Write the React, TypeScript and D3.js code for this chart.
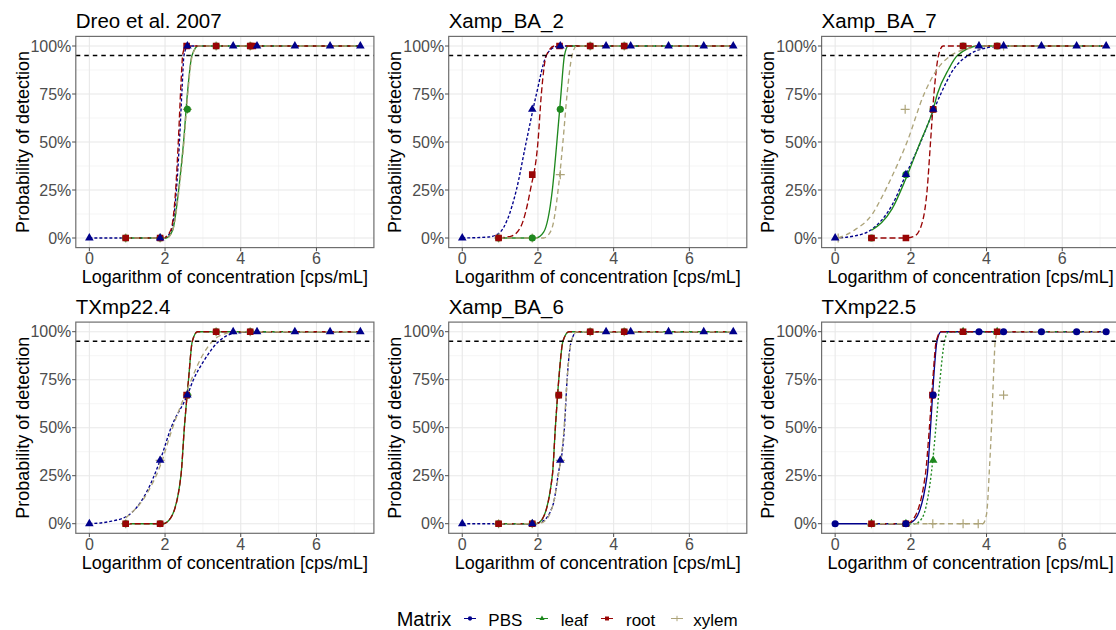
import React from "react";
import * as d3 from "d3";

// ---------- data ----------
const PANEL_TITLES = ["Dreo et al. 2007", "Xamp_BA_2", "Xamp_BA_7", "TXmp22.4", "Xamp_BA_6", "TXmp22.5"];
const MATRICES = ["PBS", "leaf", "root", "xylem"];
const X_TICKS = [0, 2, 4, 6];
const X_MINOR = [1, 3, 5, 7];
const Y_TICKS = [0, 0.25, 0.5, 0.75, 1];
const Y_TICK_LABELS = ["0%", "25%", "50%", "75%", "100%"];
const Y_MINOR = [0.125, 0.375, 0.625, 0.875];
const X_DATA_RANGE = [0, 7.16];
const LOD_LEVEL = 0.95;

// observed detection rates: [log concentration, proportion detected]
const dreoPoints = {
  PBS: [[0, 0], [1.87, 0], [2.59, 1], [3.8, 1], [4.43, 1], [5.43, 1], [6.36, 1], [7.16, 1]],
  leaf: [[0.96, 0], [1.87, 0], [2.59, 0.67], [3.35, 1], [4.25, 1]],
  root: [[0.96, 0], [1.87, 0], [2.57, 1], [3.35, 1], [4.25, 1], [4.32, 1]],
  xylem: [[0.96, 0], [1.87, 0], [2.59, 0.67], [3.35, 1], [4.25, 1]],
};
const ba2Points = {
  PBS: [[0, 0], [1.85, 0.67], [2.59, 1], [3.8, 1], [4.45, 1], [5.45, 1], [6.38, 1], [7.16, 1]],
  leaf: [[0.96, 0], [1.85, 0], [2.59, 0.67], [3.38, 1], [4.28, 1]],
  root: [[0.96, 0], [1.85, 0.33], [2.57, 1], [3.38, 1], [4.28, 1]],
  xylem: [[0.96, 0], [1.85, 0], [2.59, 0.33], [3.38, 1], [4.28, 1]],
};
const ba7Points = {
  PBS: [[0, 0], [1.87, 0.33], [2.59, 0.67], [3.8, 1], [4.45, 1], [5.45, 1], [6.38, 1], [7.16, 1]],
  leaf: [[0.96, 0], [1.87, 0.33], [2.59, 0.67], [3.38, 1], [4.28, 1]],
  root: [[0.96, 0], [1.87, 0], [2.59, 0.67], [3.38, 1], [4.28, 1]],
  xylem: [[0.08, 0], [1.85, 0.67], [3.8, 1], [4.45, 1]],
};
const tx224Points = {
  PBS: [[0, 0], [1.87, 0.33], [2.59, 0.67], [3.8, 1], [4.43, 1], [5.43, 1], [6.36, 1], [7.16, 1]],
  leaf: [[0.96, 0], [1.87, 0], [2.59, 0.67], [3.35, 1], [4.25, 1]],
  root: [[0.96, 0], [1.87, 0], [2.57, 0.67], [3.35, 1], [4.25, 1]],
  xylem: [[0.96, 0], [1.87, 0.33], [2.59, 0.67], [3.35, 1], [4.25, 1]],
};
const ba6Points = {
  PBS: [[0, 0], [1.85, 0], [2.59, 0.33], [3.8, 1], [4.45, 1], [5.45, 1], [6.38, 1], [7.16, 1]],
  leaf: [[0.96, 0], [1.85, 0], [2.55, 0.67], [3.38, 1], [4.28, 1]],
  root: [[0.96, 0], [1.85, 0], [2.55, 0.67], [3.38, 1], [4.28, 1]],
  xylem: [[0.96, 0], [1.85, 0], [2.59, 0.33], [3.38, 1], [4.28, 1]],
};
const tx225Points = {
  PBS: [[0, 0], [1.87, 0], [2.59, 0.67], [3.8, 1], [4.45, 1], [5.45, 1], [6.38, 1], [7.16, 1]],
  leaf: [[0.96, 0], [1.87, 0], [2.59, 0.33], [3.38, 1], [4.28, 1]],
  root: [[0.96, 0], [1.87, 0], [2.57, 0.67], [3.38, 1], [4.28, 1]],
  xylem: [[0.96, 0], [2.58, 0], [3.38, 0], [3.78, 0], [4.45, 0.67]],
};

// fitted detection curves: [log concentration, probability]
const dreoFits = {
  PBS: [[0, 0], [1.95, 0], [2.15, 0.03], [2.3, 0.25], [2.38, 0.5], [2.45, 0.78], [2.5, 0.95], [2.6, 1], [7.16, 1]],
  leaf: [[0.96, 0], [2.03, 0], [2.2, 0.04], [2.36, 0.25], [2.49, 0.5], [2.59, 0.75], [2.71, 0.95], [2.88, 1], [7.16, 1]],
  root: [[0.96, 0], [1.95, 0], [2.15, 0.04], [2.28, 0.25], [2.35, 0.5], [2.42, 0.8], [2.47, 0.96], [2.55, 1], [7.16, 1]],
  xylem: [[0.96, 0], [2.05, 0], [2.2, 0.04], [2.37, 0.25], [2.5, 0.5], [2.6, 0.75], [2.72, 0.95], [2.88, 1], [7.16, 1]],
};
const ba2Fits = {
  PBS: [[0, 0], [0.7, 0.005], [1.0, 0.03], [1.2, 0.1], [1.43, 0.25], [1.69, 0.5], [1.96, 0.75], [2.22, 0.95], [2.45, 0.995], [2.6, 1], [7.16, 1]],
  leaf: [[0.96, 0], [1.95, 0], [2.15, 0.03], [2.38, 0.25], [2.5, 0.5], [2.6, 0.73], [2.7, 0.95], [2.8, 1], [7.16, 1]],
  root: [[0.96, 0], [1.3, 0.01], [1.55, 0.06], [1.8, 0.25], [2.0, 0.5], [2.09, 0.75], [2.22, 0.95], [2.44, 1], [7.16, 1]],
  xylem: [[0.96, 0], [2.15, 0], [2.35, 0.04], [2.55, 0.28], [2.66, 0.5], [2.77, 0.75], [2.9, 0.95], [3.02, 1], [7.16, 1]],
};
const ba7Fits = {
  PBS: [[0, 0], [0.5, 0.01], [1, 0.05], [1.5, 0.17], [1.87, 0.33], [2.26, 0.5], [2.59, 0.66], [2.79, 0.75], [3.1, 0.87], [3.5, 0.95], [4, 0.99], [4.45, 1], [7.16, 1]],
  leaf: [[0.96, 0.04], [1.5, 0.15], [1.87, 0.31], [2.25, 0.5], [2.59, 0.67], [2.7, 0.75], [3.0, 0.88], [3.23, 0.95], [3.8, 1], [7.16, 1]],
  root: [[0.96, 0], [1.87, 0], [2.1, 0.01], [2.3, 0.08], [2.43, 0.25], [2.52, 0.5], [2.61, 0.75], [2.73, 0.95], [2.85, 1], [7.16, 1]],
  xylem: [[0.08, 0], [0.5, 0.04], [1.0, 0.13], [1.2, 0.2], [1.5, 0.32], [1.9, 0.5], [2.35, 0.75], [2.7, 0.88], [3.05, 0.95], [3.5, 0.985], [4, 1], [7.16, 1]],
};
const tx224Fits = {
  PBS: [[0, 0], [0.5, 0.01], [1, 0.04], [1.5, 0.16], [1.87, 0.33], [2.16, 0.5], [2.59, 0.67], [2.75, 0.75], [3.0, 0.84], [3.42, 0.95], [3.8, 0.99], [4.43, 1], [7.16, 1]],
  leaf: [[0.96, 0], [1.95, 0], [2.15, 0.03], [2.42, 0.25], [2.51, 0.5], [2.62, 0.75], [2.72, 0.95], [2.86, 1], [7.16, 1]],
  root: [[0.96, 0], [1.95, 0], [2.15, 0.03], [2.42, 0.25], [2.51, 0.5], [2.62, 0.75], [2.72, 0.95], [2.86, 1], [7.16, 1]],
  xylem: [[0.96, 0.03], [1.5, 0.15], [1.87, 0.3], [2.2, 0.5], [2.59, 0.7], [3.0, 0.88], [3.25, 0.95], [3.6, 0.99], [4.0, 1], [7.16, 1]],
};
const ba6Fits = {
  PBS: [[0, 0], [1.85, 0], [2.1, 0.01], [2.4, 0.1], [2.53, 0.25], [2.7, 0.5], [2.77, 0.75], [2.88, 0.95], [3.03, 1], [7.16, 1]],
  leaf: [[0.96, 0], [1.95, 0], [2.1, 0.02], [2.38, 0.25], [2.46, 0.5], [2.55, 0.75], [2.66, 0.95], [2.82, 1], [7.16, 1]],
  root: [[0.96, 0], [1.95, 0], [2.1, 0.02], [2.38, 0.25], [2.46, 0.5], [2.55, 0.75], [2.66, 0.95], [2.82, 1], [7.16, 1]],
  xylem: [[0.96, 0], [1.95, 0], [2.15, 0.01], [2.4, 0.1], [2.54, 0.25], [2.69, 0.5], [2.77, 0.75], [2.88, 0.95], [3.03, 1], [7.16, 1]],
};
const tx225Fits = {
  PBS: [[0, 0], [1.9, 0], [2.1, 0.02], [2.43, 0.25], [2.52, 0.5], [2.6, 0.75], [2.69, 0.95], [2.8, 1], [7.16, 1]],
  leaf: [[0.96, 0], [2.1, 0], [2.3, 0.03], [2.5, 0.2], [2.59, 0.35], [2.66, 0.5], [2.77, 0.75], [2.89, 0.95], [3.0, 1], [7.16, 1]],
  root: [[0.96, 0], [1.9, 0], [2.05, 0.02], [2.38, 0.25], [2.49, 0.5], [2.58, 0.75], [2.67, 0.95], [2.8, 1], [7.16, 1]],
  xylem: [[0.96, 0], [3.9, 0], [4.0, 0.05], [4.08, 0.3], [4.13, 0.5], [4.18, 0.75], [4.23, 0.95], [4.3, 1], [7.16, 1]],
};

const PANEL_POINTS = [dreoPoints, ba2Points, ba7Points, tx224Points, ba6Points, tx225Points];
const PANEL_FITS = [dreoFits, ba2Fits, ba7Fits, tx224Fits, ba6Fits, tx225Fits];

// ---------- styling ----------
const COLORS: Record<string, string> = { PBS: "#00008B", leaf: "#1E881E", root: "#990505", xylem: "#ADA47A" };
const FONT = "'Liberation Sans', Arial, sans-serif";

const W = 1116, H = 630;
const PANEL_LEFT0 = 75.8, PANEL_DX = 372.9, PANEL_W = 298.1;
const ROW_TOP = [36.4, 322.1];
const PANEL_H = 211.2;

function styleFor(panel: number, m: string) {
  // panel 6 swaps PBS/leaf shapes and line types
  const swapped = panel === 5;
  if (m === "PBS") return swapped ? { shape: "circle", dash: null } : { shape: "triangle", dash: "3,2" };
  if (m === "leaf") return swapped ? { shape: "triangle", dash: "2,2.2" } : { shape: "circle", dash: null };
  if (m === "root") return { shape: "square", dash: "6,3" };
  return { shape: "plus", dash: "5,3.5" };
}

function shapePath(shape: string, scale = 1) {
  if (shape === "plus") { const r = 4.5 * scale; return `M${-r},0H${r}M0,${-r}V${r}`; }
  const type = shape === "circle" ? d3.symbolCircle : shape === "square" ? d3.symbolSquare : d3.symbolTriangle;
  const size = shape === "circle" ? 40 : shape === "square" ? 44 : 32;
  return d3.symbol().type(type).size(size * scale * scale)() as string;
}

const lineGen = (xs: any, ys: any) =>
  d3.line<number[]>().x(d => xs(d[0])).y(d => ys(d[1])).curve(d3.curveMonotoneX);

function Panel({ idx }: { idx: number }) {
  const col = idx % 3, row = Math.floor(idx / 3);
  const left = PANEL_LEFT0 + col * PANEL_DX;
  const top = ROW_TOP[row];
  const span = X_DATA_RANGE[1] - X_DATA_RANGE[0];
  const xs = d3.scaleLinear().domain([X_DATA_RANGE[0] - 0.05 * span, X_DATA_RANGE[1] + 0.05 * span]).range([left, left + PANEL_W]);
  const ys = d3.scaleLinear().domain([-0.05, 1.05]).range([top + PANEL_H, top]);
  const fits = PANEL_FITS[idx] as any;
  const pts = PANEL_POINTS[idx] as any;
  const lg = lineGen(xs, ys);
  const bottom = top + PANEL_H;
  const clipId = `clip${idx}`;
  const pointOrder = ["xylem", "leaf", "root", "PBS"];
  return (
    <g>
      <defs>
        <clipPath id={clipId}><rect x={left} y={top} width={PANEL_W} height={PANEL_H} /></clipPath>
      </defs>
      {/* grid */}
      {X_MINOR.filter(v => xs(v) < left + PANEL_W).map(v => (
        <line key={"xm" + v} x1={xs(v)} x2={xs(v)} y1={top} y2={bottom} stroke="#f2f2f2" strokeWidth={0.8} />
      ))}
      {Y_MINOR.map(v => (
        <line key={"ym" + v} x1={left} x2={left + PANEL_W} y1={ys(v)} y2={ys(v)} stroke="#f2f2f2" strokeWidth={0.8} />
      ))}
      {X_TICKS.map(v => (
        <line key={"xg" + v} x1={xs(v)} x2={xs(v)} y1={top} y2={bottom} stroke="#e8e8e8" strokeWidth={1.1} />
      ))}
      {Y_TICKS.map(v => (
        <line key={"yg" + v} x1={left} x2={left + PANEL_W} y1={ys(v)} y2={ys(v)} stroke="#e8e8e8" strokeWidth={1.1} />
      ))}
      <g clipPath={`url(#${clipId})`}>
        {MATRICES.map(m => {
          const st = styleFor(idx, m);
          return (
            <path key={"f" + m} d={lg(fits[m]) as string} fill="none" stroke={COLORS[m]} strokeWidth={1.35}
              strokeDasharray={st.dash || undefined} />
          );
        })}
        <line x1={left} x2={left + PANEL_W} y1={ys(LOD_LEVEL)} y2={ys(LOD_LEVEL)} stroke="#000" strokeWidth={1.5} strokeDasharray="4.5,4" />
        {pointOrder.map(m => {
          const st = styleFor(idx, m);
          return (pts[m] as number[][]).map((p, i) => (
            <path key={m + i} transform={`translate(${xs(p[0])},${ys(p[1])})`} d={shapePath(st.shape)}
              fill={st.shape === "plus" ? "none" : COLORS[m]} stroke={st.shape === "plus" ? COLORS[m] : "none"} strokeWidth={1.2} />
          ));
        })}
      </g>
      <rect x={left} y={top} width={PANEL_W} height={PANEL_H} fill="none" stroke="#6e6e6e" strokeWidth={1.2} />
      {/* axes ticks */}
      {X_TICKS.map(v => (
        <g key={"xt" + v}>
          <line x1={xs(v)} x2={xs(v)} y1={bottom} y2={bottom + 3.7} stroke="#4d4d4d" strokeWidth={1} />
          <text x={xs(v)} y={bottom + 16.5} textAnchor="middle" fontSize={16} fill="#4d4d4d" fontFamily={FONT}>{v}</text>
        </g>
      ))}
      {Y_TICKS.map((v, i) => (
        <g key={"yt" + v}>
          <line x1={left - 3.7} x2={left} y1={ys(v)} y2={ys(v)} stroke="#4d4d4d" strokeWidth={1} />
          <text x={left - 4.5} y={ys(v)} dy="0.36em" textAnchor="end" fontSize={16} fill="#4d4d4d" fontFamily={FONT}>{Y_TICK_LABELS[i]}</text>
        </g>
      ))}
      <text x={left} y={top - 8.4} fontSize={20.5} fill="#000" fontFamily={FONT}>{PANEL_TITLES[idx]}</text>
      <text x={left + PANEL_W / 2} y={bottom + 35.4} textAnchor="middle" fontSize={18} fill="#000" fontFamily={FONT}>
        Logarithm of concentration [cps/mL]
      </text>
      <text transform={`translate(${left - 47.3},${top + PANEL_H / 2}) rotate(-90)`} textAnchor="middle" fontSize={18} fill="#000" fontFamily={FONT}>
        Probability of detection
      </text>
    </g>
  );
}

const LEGEND_KEY_X = [470, 542, 607, 677];
const LEGEND_LABEL_X = [488.3, 560.7, 626, 693.3];
const LEGEND_SHAPES: Record<string, string> = { PBS: "circle", leaf: "triangle", root: "square", xylem: "plus" };

export default function App() {
  return (
    <svg width={W} height={H} style={{ position: "absolute", left: 0, top: 0, background: "#fff" }}>
      <rect width={W} height={H} fill="#fff" />
      {PANEL_TITLES.map((_, i) => <Panel key={i} idx={i} />)}
      <g>
        <text x={396.7} y={626} fontSize={20} fill="#000" fontFamily={FONT}>Matrix</text>
        {MATRICES.map((m, i) => (
          <g key={m}>
            <line x1={LEGEND_KEY_X[i] - 6} x2={LEGEND_KEY_X[i] + 6} y1={618.5} y2={618.5} stroke={COLORS[m]} strokeWidth={1} />
            <path transform={`translate(${LEGEND_KEY_X[i]},618.5)`} d={shapePath(LEGEND_SHAPES[m], 0.6)}
              fill={m === "xylem" ? "none" : COLORS[m]} stroke={m === "xylem" ? COLORS[m] : "none"} strokeWidth={1} />
            <text x={LEGEND_LABEL_X[i]} y={626} fontSize={17} fill="#000" fontFamily={FONT}>{m}</text>
          </g>
        ))}
      </g>
    </svg>
  );
}
